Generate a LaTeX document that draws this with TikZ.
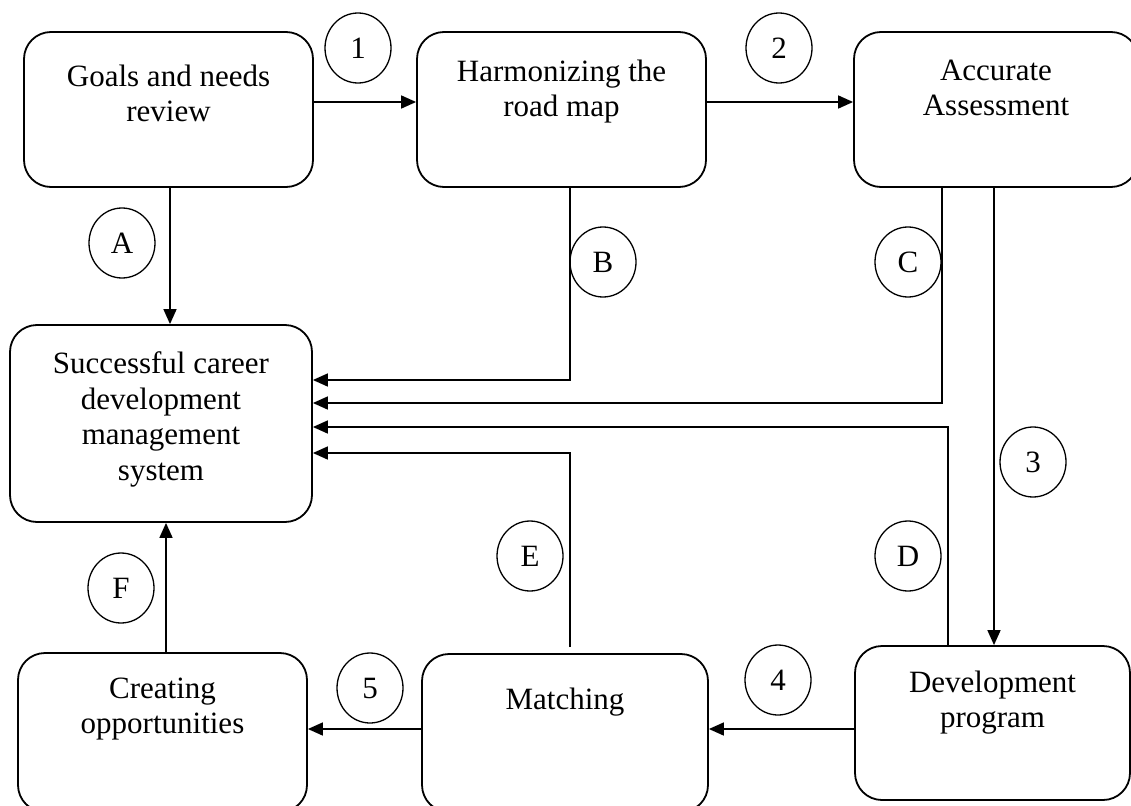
\documentclass[tikz,border=0pt]{standalone}
\usepackage{fontspec}
\setmainfont{Liberation Serif}
\usetikzlibrary{arrows.meta,shapes.geometric}
\begin{document}
\begin{tikzpicture}[x=1pt,y=-1pt,
  box/.style={draw, line width=1.8pt, rounded corners=27pt, inner sep=0pt},
  txt/.style={font=\fontsize{31}{35.5}\selectfont, align=center, inner sep=0pt, anchor=north},
  num/.style={draw, ellipse, line width=1.3pt, minimum width=66pt, minimum height=70pt, inner sep=0pt, font=\fontsize{31}{35.5}\selectfont},
  conn/.style={line width=1.6pt},
  arr/.style={conn, -{Triangle[length=15pt,width=13pt]}}]
\useasboundingbox (0,0) rectangle (1131,805);
\clip (0,0) rectangle (1131,805);

% boxes
\node[box, minimum width=289pt, minimum height=155pt,
  label={[txt, yshift=-33.5pt]north:{Goals and needs\\review}}] (goals) at (168.5,109.5) {};
\node[box, minimum width=289pt, minimum height=155pt,
  label={[txt, yshift=-28.5pt]north:{Harmonizing the\\road map}}] (harm) at (561.5,109.5) {};
\node[box, minimum width=284pt, minimum height=155pt,
  label={[txt, yshift=-28.5pt]north:{Accurate\\Assessment}}] (acc) at (996,109.5) {};
\node[box, minimum width=302pt, minimum height=197pt,
  label={[txt, yshift=-27.5pt]north:{Successful career\\development\\management\\system}}] (succ) at (161,423.5) {};
\node[box, minimum width=289pt, minimum height=159pt,
  label={[txt, yshift=-25.5pt]north:{Creating\\opportunities}}] (create) at (162.5,732.5) {};
\node[box, minimum width=286pt, minimum height=158pt,
  label={[txt, yshift=-34.5pt]north:{Matching}}] (match) at (565,733) {};
\node[box, minimum width=275pt, minimum height=154pt,
  label={[txt, yshift=-25.5pt]north:{Development\\program}}] (dev) at (992.5,723) {};

% step markers
\node[num] (n1) at (358,48) {1};
\node[num] (n2) at (779,48) {2};
\node[num] (n3) at (1033,462) {3};
\node[num] (n4) at (778,680) {4};
\node[num] (n5) at (370,688) {5};
\node[num] (nA) at (122,243) {A};
\node[num] (nB) at (603,262) {B};
\node[num] (nC) at (908,262) {C};
\node[num] (nD) at (908,556) {D};
\node[num] (nE) at (530,556) {E};
\node[num] (nF) at (121,588) {F};

% main flow
\draw[arr] ([yshift=7.5pt]goals.east) -- ([yshift=7.5pt]harm.west);
\draw[arr] ([yshift=7.5pt]harm.east) -- ([yshift=7.5pt]acc.west);
\draw[arr] ([xshift=-2pt]acc.south) -- ([xshift=-2pt]acc.south |- dev.north);
\draw[arr] ([yshift=-6pt]dev.west) -- ([yshift=-6pt]dev.west -| match.east);
\draw[arr] ([yshift=4pt]match.west) -- ([yshift=4pt]match.west -| create.east);

% feeds into the system
\draw[arr] ([xshift=1.5pt]goals.south) -- ([xshift=1.5pt]goals.south |- succ.north);
\draw[arr] ([xshift=8.5pt]harm.south) |- ([yshift=43.5pt]succ.east);
\draw[arr] ([xshift=-54pt]acc.south) |- ([yshift=20.5pt]succ.east);
\draw[arr] ([xshift=-44.5pt]dev.north) |- ([yshift=-3.5pt]succ.east);
\coordinate (e0) at (570,647);
\draw[arr] (e0) |- ([yshift=-29.5pt]succ.east);
\draw[arr] ([xshift=3.5pt]create.north) -- ([xshift=3.5pt]create.north |- succ.south);
\end{tikzpicture}
\end{document}
